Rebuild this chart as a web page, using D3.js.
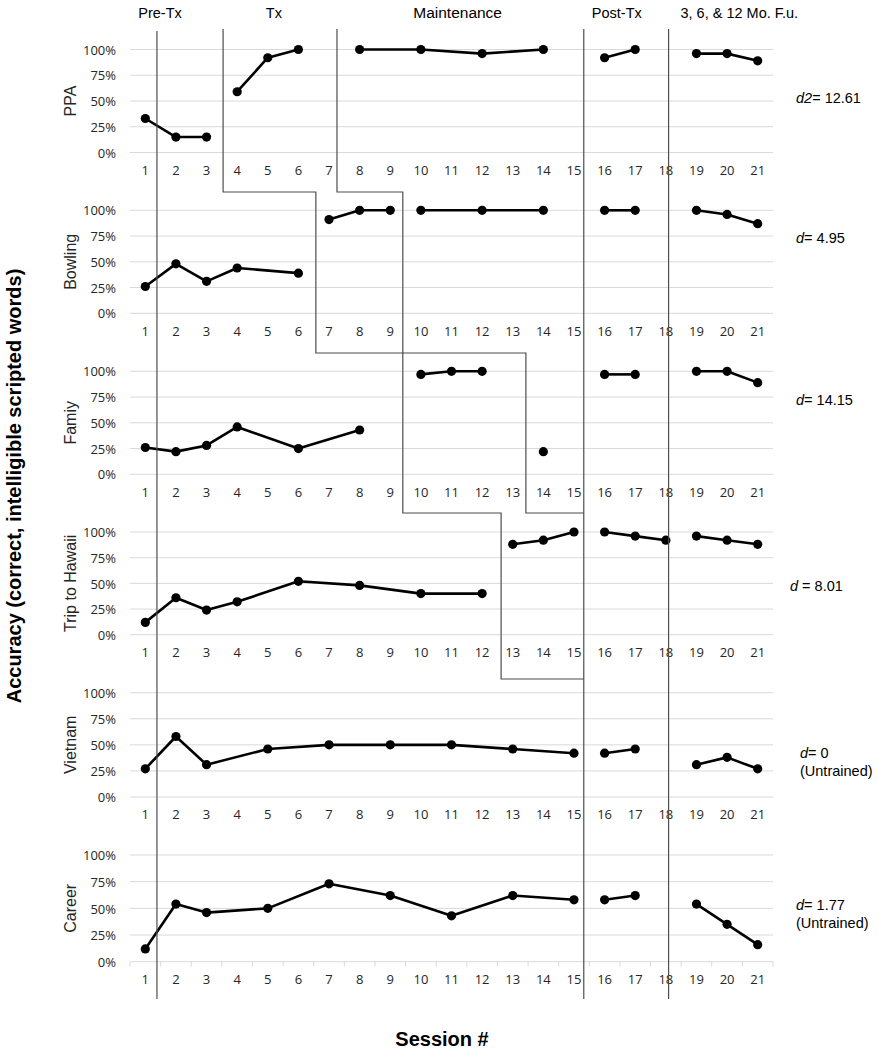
<!DOCTYPE html>
<html>
<head>
<meta charset="utf-8">
<script src="https://cdn.jsdelivr.net/npm/d3@7"></script>
<style>
  html, body { margin: 0; padding: 0; background: #fff; }
  svg { display: block; }
</style>
</head>
<body>
<svg id="chart" width="878" height="1049"></svg>
<script>
// ---------------- DATA ----------------
const sessions = d3.range(1, 22);
const yTickValues = [0, 25, 50, 75, 100];
const panelNames = ["PPA", "Bowling", "Famiy", "Trip to Hawaii", "Vietnam", "Career"];

const ppa     = [33, 15, 15, 59, 92, 100, null, 100, null, 100, null, 96, null, 100, null, 92, 100, null, 96, 96, 89];
const bowling = [26, 48, 31, 44, null, 39, 91, 100, 100, 100, null, 100, null, 100, null, 100, 100, null, 100, 96, 87];
const famiy   = [26, 22, 28, 46, null, 25, null, 43, null, 97, 100, 100, null, 22, null, 97, 97, null, 100, 100, 89];
const trip    = [12, 36, 24, 32, null, 52, null, 48, null, 40, null, 40, 88, 92, 100, 100, 96, 92, 96, 92, 88];
const vietnam = [27, 58, 31, null, 46, null, 50, null, 50, null, 50, null, 46, null, 42, 42, 46, null, 31, 38, 27];
const career  = [12, 54, 46, null, 50, null, 73, null, 62, null, 43, null, 62, null, 58, 58, 62, null, 54, 35, 16];
const panelValues = [ppa, bowling, famiy, trip, vietnam, career];

// sessions where a new (unconnected) line segment begins
const segmentStarts = [[4, 8, 16, 19], [7, 10, 16, 19], [10, 14, 16, 19], [13, 16, 19], [16, 19], [16, 19]];

// effect sizes
const effectLabels = [
  { ital: "d2", rest: "= 12.61", note: null },
  { ital: "d", rest: "= 4.95", note: null },
  { ital: "d", rest: "= 14.15", note: null },
  { ital: "d", rest: " = 8.01", note: null },
  { ital: "d", rest: "= 0", note: "(Untrained)" },
  { ital: "d", rest: "= 1.77", note: "(Untrained)" }
];

const phaseNames = ["Pre-Tx", "Tx", "Maintenance", "Post-Tx", "3, 6, & 12 Mo. F.u."];
const phaseLabelAt = [1.48, 5.2, 11.2, 16.4, 20.4];          // session position of phase label centres
const phaseLineAt = [1.38, 15.32, 18.09];                     // full-height phase dividers
const txStartLine = [3.54, 6.57, 9.41, 12.62];                // multiple-baseline step: treatment start
const maintStartLine = [7.26, 9.41, 13.43];                   // multiple-baseline step: maintenance start

// ---------------- LAYOUT ----------------
const svg = d3.select("#chart");
const panelTop = [49.5, 210.3, 371.3, 532, 692.7, 855];
const panelBottom = [152.5, 313.3, 474.3, 634.7, 797, 961.7];
const stepY = [29, 192, 353, 513, 679];
const lineBottom = 999;

const xBand = d3.scaleBand().domain(sessions).range([130, 773]).padding(0);
const xPos = d => xBand(d) + xBand.bandwidth() / 2;
const xLin = d3.scaleLinear().domain([1, 21]).range([xPos(1), xPos(21)]);

const tickFont = "'Open Sans', 'Noto Sans', sans-serif";
const labelFont = "'Liberation Sans', Arial, sans-serif";

panelNames.forEach((name, i) => {
  const y = d3.scaleLinear().domain([0, 100]).range([panelBottom[i], panelTop[i]]);
  const g = svg.append("g");

  // gridlines
  g.selectAll("line.grid").data(yTickValues).join("line")
    .attr("x1", 130).attr("x2", 773)
    .attr("y1", d => y(d)).attr("y2", d => y(d))
    .attr("stroke", "#d9d9d9").attr("stroke-width", 1);

  // y axis tick labels
  const yAxis = d3.axisLeft(y).tickValues(yTickValues).tickFormat(d => d + "%").tickSize(0).tickPadding(0);
  const ya = g.append("g").attr("transform", "translate(116,0)").call(yAxis);
  ya.select(".domain").remove();
  ya.selectAll("text").attr("font-family", tickFont).attr("font-size", 13).attr("fill", "#262626").attr("dy", "0.36em");

  // x axis tick labels
  const xAxis = d3.axisBottom(xBand).tickSize(0).tickPadding(0);
  const xa = g.append("g").attr("transform", `translate(0,${panelBottom[i] + 13})`).call(xAxis);
  xa.select(".domain").remove();
  xa.selectAll("text").attr("font-family", tickFont).attr("font-size", 13).attr("fill", "#262626").attr("dy", "0.71em");

  // bottom panel gets tick marks on the category axis
  if (i === panelNames.length - 1) {
    const bounds = sessions.map(s => xBand(s)).concat([xBand(21) + xBand.bandwidth()]);
    g.selectAll("line.tk").data(bounds).join("line")
      .attr("x1", d => d).attr("x2", d => d)
      .attr("y1", panelBottom[i]).attr("y2", panelBottom[i] + 5)
      .attr("stroke", "#d9d9d9").attr("stroke-width", 1);
  }

  // panel label (rotated)
  g.append("text")
    .attr("transform", `translate(76,${(panelTop[i] + panelBottom[i]) / 2}) rotate(-90)`)
    .attr("text-anchor", "middle")
    .attr("font-family", labelFont).attr("font-size", 16).attr("fill", "#262626")
    .text(name);

  // data segments
  const vals = panelValues[i];
  const starts = [1].concat(segmentStarts[i]).concat([22]);
  const line = d3.line().x(d => xPos(d.s)).y(d => y(d.v));
  for (let k = 0; k < starts.length - 1; k++) {
    const pts = sessions.filter(s => s >= starts[k] && s < starts[k + 1] && vals[s - 1] != null)
      .map(s => ({ s, v: vals[s - 1] }));
    if (pts.length > 1) {
      g.append("path").datum(pts).attr("d", line)
        .attr("fill", "none").attr("stroke", "#000").attr("stroke-width", 2.6).attr("stroke-linejoin", "round");
    }
  }
  const allPts = sessions.filter(s => vals[s - 1] != null).map(s => ({ s, v: vals[s - 1] }));
  g.selectAll("circle").data(allPts).join("circle")
    .attr("cx", d => xPos(d.s)).attr("cy", d => y(d.v)).attr("r", 4.6).attr("fill", "#000");

  // effect size label
  const e = effectLabels[i];
  const ex = i === 3 ? 790 : (i === 4 ? 800 : 796);
  const midY = [103, 243, 405, 591, 758, 910][i];
  const t = svg.append("text").attr("x", ex).attr("y", midY)
    .attr("font-family", labelFont).attr("font-size", 14.5).attr("fill", "#000");
  t.append("tspan").attr("font-style", "italic").text(e.ital);
  t.append("tspan").text(e.rest);
  if (e.note) {
    svg.append("text").attr("x", ex).attr("y", midY + 17.5)
      .attr("font-family", labelFont).attr("font-size", 14.5).attr("fill", "#000").text(e.note);
  }
});

// phase divider lines
svg.selectAll("line.phase").data(phaseLineAt).join("line")
  .attr("x1", d => xLin(d)).attr("x2", d => xLin(d))
  .attr("y1", (d, i) => i === 0 ? 31 : 29).attr("y2", lineBottom)
  .attr("stroke", "#4d4d4d").attr("stroke-width", 1.2);

// multiple-baseline staircase lines
const postX = xLin(phaseLineAt[1]);
function stairs(xs) {
  const pts = [];
  xs.forEach((sx, k) => {
    const x = xLin(sx);
    pts.push([x, stepY[k]]);
    pts.push([x, stepY[k + 1]]);
  });
  pts.push([postX, stepY[xs.length]]);
  return pts;
}
[txStartLine, maintStartLine].forEach(xs => {
  svg.append("path").attr("d", d3.line()(stairs(xs)))
    .attr("fill", "none").attr("stroke", "#4d4d4d").attr("stroke-width", 1.2);
});

// phase labels
svg.selectAll("text.phaseLab").data(phaseNames).join("text")
  .attr("x", (d, i) => xLin(phaseLabelAt[i])).attr("y", 18)
  .attr("text-anchor", "middle")
  .attr("font-family", labelFont).attr("font-size", (d, i) => i === 2 ? 15.5 : 14.5).attr("fill", "#000")
  .text(d => d);

// axis titles
svg.append("text")
  .attr("transform", "translate(21,486) rotate(-90)")
  .attr("text-anchor", "middle")
  .attr("font-family", labelFont).attr("font-size", 20).attr("font-weight", "bold").attr("fill", "#000")
  .text("Accuracy (correct, intelligible scripted words)");

svg.append("text")
  .attr("x", 442).attr("y", 1046)
  .attr("text-anchor", "middle")
  .attr("font-family", labelFont).attr("font-size", 20).attr("font-weight", "bold").attr("fill", "#000")
  .text("Session #");
</script>
</body>
</html>
